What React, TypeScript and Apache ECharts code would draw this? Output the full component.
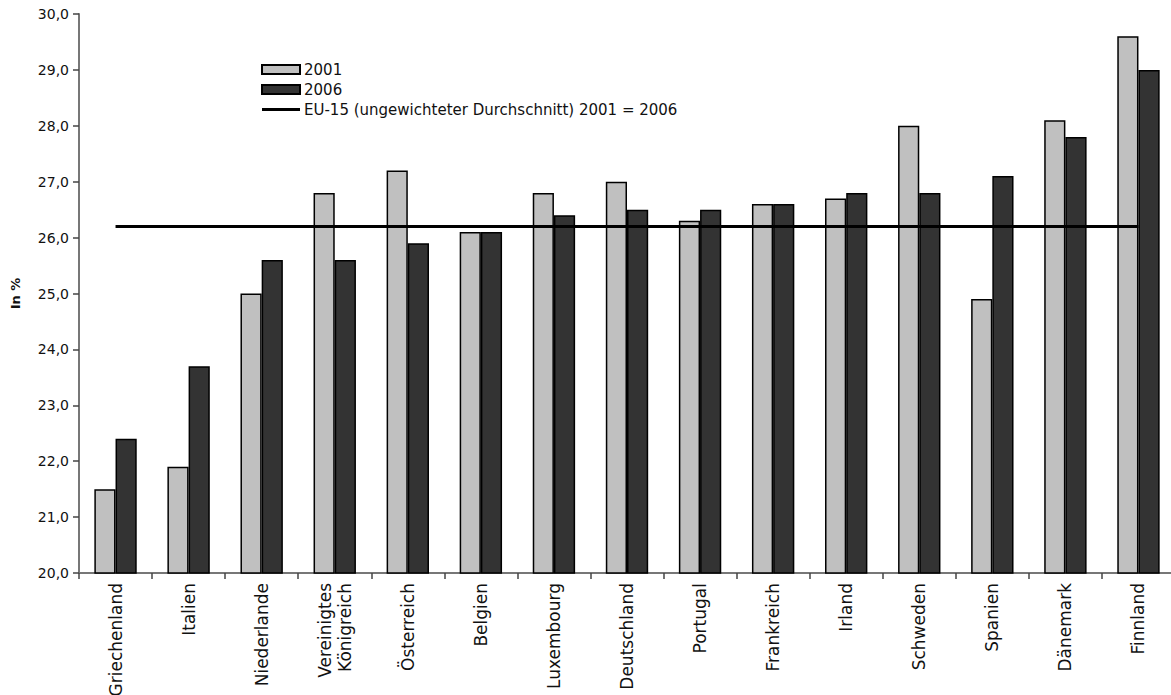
import React, { useEffect, useRef } from "react";
import * as echarts from "echarts";

const categories = [
  "Griechenland", "Italien", "Niederlande", "Vereinigtes\nKönigreich", "Österreich",
  "Belgien", "Luxembourg", "Deutschland", "Portugal", "Frankreich",
  "Irland", "Schweden", "Spanien", "Dänemark", "Finnland",
];
const values2001 = [21.5, 21.9, 25.0, 26.8, 27.2, 26.1, 26.8, 27.0, 26.3, 26.6, 26.7, 28.0, 24.9, 28.1, 29.6];
const values2006 = [22.4, 23.7, 25.6, 25.6, 25.9, 26.1, 26.4, 26.5, 26.5, 26.6, 26.8, 26.8, 27.1, 27.8, 29.0];
const valuesEU15 = [26.2, 26.2, 26.2, 26.2, 26.2, 26.2, 26.2, 26.2, 26.2, 26.2, 26.2, 26.2, 26.2, 26.2, 26.2];
const seriesNames = ["2001", "2006", "EU-15 (ungewichteter Durchschnitt) 2001 = 2006"];

const FONT = "'DejaVu Sans', sans-serif";

export default function App() {
  const ref = useRef<HTMLDivElement>(null);
  useEffect(() => {
    if (!ref.current) return;
    const chart = echarts.init(ref.current, undefined, { renderer: "svg" });
    chart.setOption({
      animation: false,
      backgroundColor: "#ffffff",
      textStyle: { fontFamily: FONT },
      legend: {
        orient: "vertical",
        left: 256,
        top: 57,
        itemWidth: 38,
        itemHeight: 9,
        itemGap: 5,
        textStyle: { fontFamily: FONT, fontSize: 15, color: "#111", padding: [0, 0, 0, -1] },
        data: [
          { name: seriesNames[0], icon: "rect" },
          { name: seriesNames[1], icon: "rect" },
          { name: seriesNames[2], icon: "path://M0,0 L40,0 L40,3 L0,3 Z", itemStyle: { color: "#000" } },
        ],
      },
      grid: { left: 79, top: 14, width: 1096, bottom: 122, containLabel: false, outerBoundsMode: "none" },
      xAxis: {
        type: "category",
        data: categories,
        boundaryGap: true,
        axisLine: { lineStyle: { color: "#777", width: 2 } },
        axisTick: { show: true, length: 6, lineStyle: { color: "#444", width: 1.5 } },
        axisLabel: {
          rotate: 90,
          interval: 0,
          margin: 10,
          fontFamily: FONT,
          fontSize: 17,
          color: "#111",
          lineHeight: 20,
          align: "right",
        },
      },
      yAxis: {
        type: "value",
        min: 20,
        max: 30,
        interval: 1,
        name: "In %",
        nameLocation: "middle",
        nameGap: 57,
        nameTextStyle: { fontFamily: FONT, fontSize: 13, fontWeight: "bold", color: "#111" },
        axisLine: { show: true, lineStyle: { color: "#777", width: 2 } },
        axisTick: { show: true, length: 6, lineStyle: { color: "#444", width: 1.5 } },
        splitLine: { show: false },
        axisLabel: {
          fontFamily: FONT,
          fontSize: 14,
          color: "#111",
          margin: 10,
          formatter: (v: number) => v.toFixed(1).replace(".", ","),
        },
      },
      series: [
        {
          name: seriesNames[0],
          type: "bar",
          data: values2001,
          barGap: "0%",
          barCategoryGap: "42%",
          itemStyle: { color: "#c0c0c0", borderColor: "#000", borderWidth: 1.5 },
        },
        {
          name: seriesNames[1],
          type: "bar",
          data: values2006,
          barGap: "0%",
          barCategoryGap: "42%",
          itemStyle: { color: "#333333", borderColor: "#000", borderWidth: 1.5 },
        },
        {
          name: seriesNames[2],
          type: "line",
          data: valuesEU15,
          symbol: "none",
          lineStyle: { color: "#000", width: 3 },
          itemStyle: { color: "#000" },
          z: 5,
        },
      ],
    });
    return () => chart.dispose();
  }, []);
  return <div ref={ref} style={{ position: "absolute", left: 0, top: 0, width: 1171, height: 695 }} />;
}
